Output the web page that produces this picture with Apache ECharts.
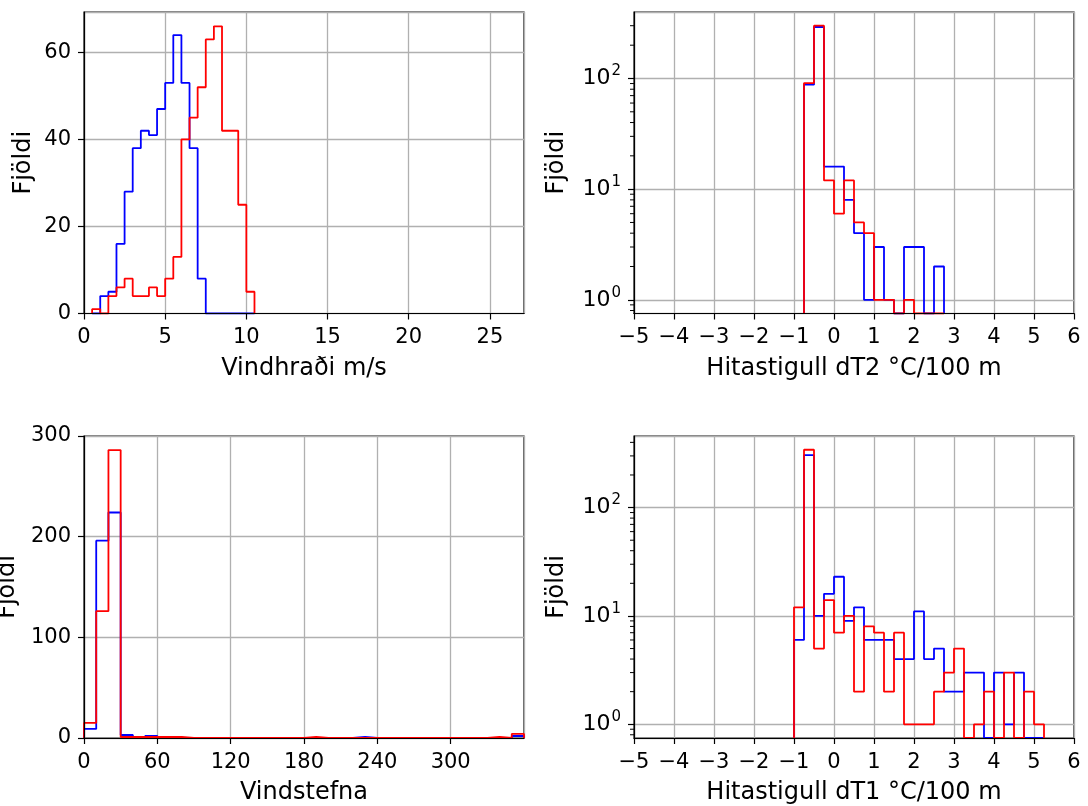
<!DOCTYPE html>
<html><head><meta charset="utf-8">
<script src="https://cdn.jsdelivr.net/npm/echarts@6/dist/echarts.min.js"></script>
<style>html,body{margin:0;padding:0;background:#fff}#c{width:1088px;height:806px}</style>
</head><body><div id="c"></div>
<script>
// ---- Vindhraði (wind speed), bins of 0.5 m/s starting at 0.5
const speedStart = 0.5, speedWidth = 0.5;
const speedBlue = [0,4,5,16,28,38,42,41,47,53,64,53,38,8,0,0,0,0,0,0];
const speedRed  = [1,0,4,6,8,4,4,6,4,8,13,40,45,52,63,66,42,42,25,5];
// ---- Hitastigull dT2, bins of 0.25 starting at -0.75
const dT2Start = -0.75, dT2Width = 0.25;
const dT2Blue = [88,292,16,16,8,4,1,3,1,0,3,3,0,2];
const dT2Red  = [91,300,12,6,12,5,4,1,1,0,1,0,0,0];
// ---- Vindstefna (wind direction), bins of 10 degrees starting at 0
const dirStart = 0, dirWidth = 10;
const dirBlue = [9,196,224,3,0,2,0,0,0,0,0,0,0,0,0,0,0,0,0,0,0,0,1,0,0,0,0,0,0,0,0,0,0,0,0,2];
const dirRed  = [15,126,286,1,1,1,1,1,0,0,0,0,0,0,0,0,0,0,1,0,0,0,0,0,0,0,0,0,0,0,0,0,0,1,0,4];
// ---- Hitastigull dT1, bins of 0.25 starting at -1
const dT1Start = -1, dT1Width = 0.25;
const dT1Blue = [6,305,10,16,23,9,12,6,6,6,4,4,11,4,5,2,2,3,3,0,3,1,3,0,0];
const dT1Red  = [12,342,5,14,7,10,2,8,7,2,7,1,1,1,2,3,5,0,1,2,0,3,0,2,1];
// ---- axis titles
const yTitle = 'Fjöldi';

const FONT = 'DejaVu Sans';
const FS_TICK = 21, FS_LOG = 22, FS_SUP = 15, FS_NAME = 24;

function outline(start, width, counts, floor) {
  const f = v => (v > 0 ? v : floor);
  const pts = [[start, floor]];
  counts.forEach((c, i) => {
    pts.push([start + i * width, f(c)]);
    pts.push([start + (i + 1) * width, f(c)]);
  });
  pts.push([start + counts.length * width, floor]);
  return pts;
}
const fmtNum = v => (v < 0 ? '\u2212' + Math.abs(v) : String(v));
const fmtLog = v => '{b|10}{s|' + Math.round(Math.log10(v)) + '}';

const panels = [
  {left:84, top:12, w:440, h:301.5, xmin:0, xmax:27.1, xint:5, ylog:false, ymin:0, ymax:69.3, yint:20,
   xname:'Vindhraði m/s', start:speedStart, width:speedWidth, blue:speedBlue, red:speedRed, ygap:48},
  {left:634, top:12, w:440, h:301.5, xmin:-5, xmax:6, xint:1, ylog:true, ymin:0.752, ymax:399,
   xname:'Hitastigull dT2 °C/100 m', start:dT2Start, width:dT2Width, blue:dT2Blue, red:dT2Red, ygap:65},
  {left:84, top:436, w:440, h:302, xmin:0, xmax:360, xint:60, ylog:false, ymin:0, ymax:300, yint:100,
   xname:'Vindstefna', start:dirStart, width:dirWidth, blue:dirBlue, red:dirRed, ygap:64},
  {left:634, top:436, w:440, h:302, xmin:-5, xmax:6, xint:1, ylog:true, ymin:0.747, ymax:458,
   xname:'Hitastigull dT1 °C/100 m', start:dT1Start, width:dT1Width, blue:dT1Blue, red:dT1Red, ygap:65}
];

const grid = [], xAxis = [], yAxis = [], series = [];
panels.forEach((p, i) => {
  grid.push({left:p.left, top:p.top, width:p.w, height:p.h, show:true, borderColor:'#000', borderWidth:1.2,
    backgroundColor:'#fff', containLabel:false, outerBoundsMode:'none'});
  const xBase = {type:'value', gridIndex:i, min:p.xmin, max:p.xmax, interval:p.xint, position:'bottom'};
  xAxis.push(Object.assign({}, xBase, {z:0, axisLine:{show:false}, axisTick:{show:false}, axisLabel:{show:false},
    splitLine:{show:true, lineStyle:{color:'#b0b0b0', width:1.3}}}));
  xAxis.push(Object.assign({}, xBase, {z:6, axisLine:{show:true, onZero:false, lineStyle:{color:'#000', width:1.2}},
    axisTick:{show:true, length:6, lineStyle:{color:'#000', width:1.2}},
    axisLabel:{show:true, fontFamily:FONT, fontSize:FS_TICK, color:'#000', margin:14, formatter:fmtNum,
      showMaxLabel: p.xmax===6, showMinLabel:true},
    splitLine:{show:false},
    name:p.xname, nameLocation:'middle', nameGap:43, nameTextStyle:{fontFamily:FONT, fontSize:FS_NAME, color:'#000'}}));
  const yBase = p.ylog ? {type:'log', logBase:10, gridIndex:i, min:p.ymin, max:p.ymax, position:'left'}
                       : {type:'value', gridIndex:i, min:p.ymin, max:p.ymax, interval:p.yint, position:'left'};
  yAxis.push(Object.assign({}, yBase, {z:0, axisLine:{show:false}, axisTick:{show:false}, axisLabel:{show:false},
    splitLine:{show:true, lineStyle:{color:'#b0b0b0', width:1.3}}, minorTick:{show:false}}));
  yAxis.push(Object.assign({}, yBase, {z:6, axisLine:{show:true, onZero:false, lineStyle:{color:'#000', width:1.2}},
    axisTick:{show:true, length:6, lineStyle:{color:'#000', width:1.2}},
    axisLabel:{show:true, fontFamily:FONT, fontSize:FS_TICK, color:'#000', margin:13,
      formatter: p.ylog ? fmtLog : fmtNum, showMinLabel: !p.ylog, showMaxLabel: p.ymax===300,
      rich:{b:{fontFamily:FONT, fontSize:FS_LOG, color:'#000'},
            s:{fontFamily:FONT, fontSize:FS_SUP, color:'#000', padding:[0,0,14,1]}}},
    splitLine:{show:false},
    name:yTitle, nameLocation:'middle', nameRotate:90, nameGap:p.ygap, nameTextStyle:{fontFamily:FONT, fontSize:FS_NAME, color:'#000'}}));
  const floor = p.ylog ? p.ymin : 0;
  series.push({type:'line', xAxisIndex:2*i, yAxisIndex:2*i, data:outline(p.start, p.width, p.blue, floor),
    showSymbol:false, symbol:'none', lineStyle:{color:'#0000ff', width:1.8}, z:2, animation:false, silent:true, clip:true});
  series.push({type:'line', xAxisIndex:2*i, yAxisIndex:2*i, data:outline(p.start, p.width, p.red, floor),
    showSymbol:false, symbol:'none', lineStyle:{color:'#ff0000', width:1.8}, z:3, animation:false, silent:true, clip:true});
  if (p.ylog) {
    const minor = [];
    for (let e = -1; e <= 3; e++) for (let m = 2; m <= 9; m++) {
      const v = m * Math.pow(10, e);
      if (v >= p.ymin && v <= p.ymax) minor.push([p.xmin, v]);
    }
    series.push({type:'custom', xAxisIndex:2*i, yAxisIndex:2*i, data:minor, z:7, clip:false, silent:true, animation:false,
      renderItem:(params, api) => {
        const c = api.coord([api.value(0), api.value(1)]);
        return {type:'line', shape:{x1:c[0]-4, y1:c[1], x2:c[0], y2:c[1]}, style:{stroke:'#000', lineWidth:1}};
      }});
  }
});

const chart = echarts.init(document.getElementById('c'), null, {renderer:'canvas'});
chart.setOption({animation:false, backgroundColor:'#fff', grid, xAxis, yAxis, series});
</script></body></html>
